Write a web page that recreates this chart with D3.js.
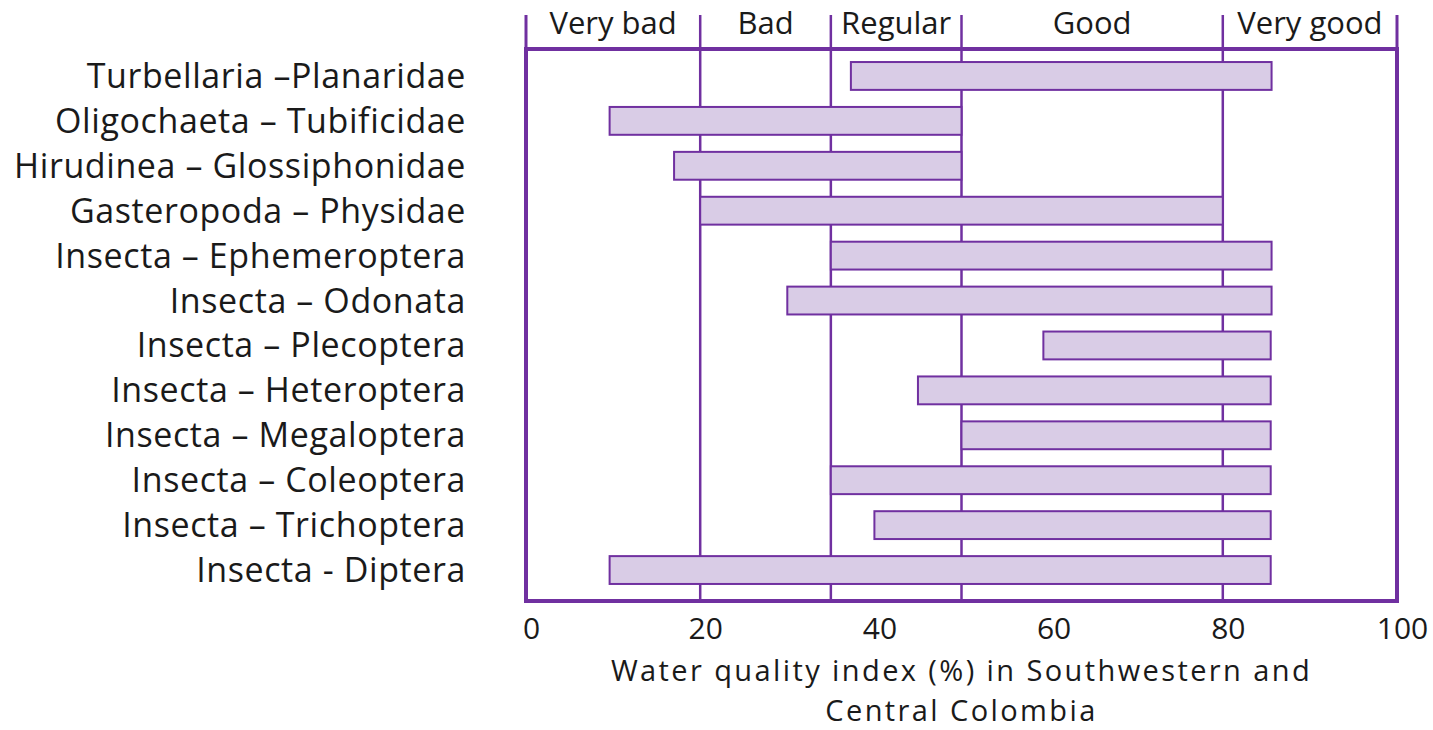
<!DOCTYPE html>
<html>
<head>
<meta charset="utf-8">
<script src="https://d3js.org/d3.v7.min.js"></script>
<style>
  body { margin: 0; background: #fff; }
  text { font-family: "Open Sans", Lato, sans-serif; fill: #1a1a1a; }
</style>
</head>
<body>
<div id="chart-area"></div>
<script>
// taxa, top to bottom
var taxa = ["Turbellaria \u2013Planaridae", "Oligochaeta \u2013 Tubificidae", "Hirudinea \u2013 Glossiphonidae",
            "Gasteropoda \u2013 Physidae", "Insecta \u2013 Ephemeroptera", "Insecta \u2013 Odonata",
            "Insecta \u2013 Plecoptera", "Insecta \u2013 Heteroptera", "Insecta \u2013 Megaloptera",
            "Insecta \u2013 Coleoptera", "Insecta \u2013 Trichoptera", "Insecta - Diptera"];
var lowValues  = [37.3, 9.6, 17, 20, 35, 30, 59.4, 45, 50, 35, 40, 9.6];
var highValues = [85.6, 50, 50, 80, 85.6, 85.6, 85.5, 85.5, 85.5, 85.5, 85.5, 85.5];

// quality classes
var classNames = ["Very bad", "Bad", "Regular", "Good", "Very good"];
var classBreaks = [0, 20, 35, 50, 80, 100];

var xTicks = [0, 20, 40, 60, 80, 100];
var titleLines = ["Water quality index (%) in Southwestern and", "Central Colombia"];

var purple = "#7030a0";
var lilac = "#d9cce6";

var W = 1433, H = 730;
var margin = { left: 526, right: 36, top: 49, bottom: 129 };
var width = W - margin.left - margin.right,
    height = H - margin.top - margin.bottom;

var svg = d3.select("#chart-area").append("svg")
    .attr("width", W).attr("height", H);

var g = svg.append("g")
    .attr("transform", "translate(" + margin.left + "," + margin.top + ")");

var xScale = d3.scaleLinear().domain([0, 100]).range([0, width]);
var yScale = d3.scaleBand().domain(taxa)
    .range([4.5, height - 8.5])
    .paddingInner(0.38).paddingOuter(0.19);

// class boundary lines (extend above the frame)
g.selectAll("line.brk")
  .data(classBreaks.slice(1, -1))
  .enter().append("line")
    .attr("class", "brk")
    .attr("x1", d => xScale(d)).attr("x2", d => xScale(d))
    .attr("y1", -34).attr("y2", height)
    .attr("stroke", purple).attr("stroke-width", 2.5);

// frame sides extending up too
g.selectAll("line.side")
  .data([0, 100])
  .enter().append("line")
    .attr("class", "side")
    .attr("x1", d => xScale(d)).attr("x2", d => xScale(d))
    .attr("y1", -34).attr("y2", 0)
    .attr("stroke", purple).attr("stroke-width", 3);

// class labels
g.selectAll("text.cls")
  .data(classNames)
  .enter().append("text")
    .attr("class", "cls")
    .attr("x", (d, i) => (xScale(classBreaks[i]) + xScale(classBreaks[i + 1])) / 2)
    .attr("y", 34 - margin.top)
    .attr("text-anchor", "middle")
    .attr("font-size", "31px")
    .text(d => d);

// bars
g.selectAll("rect.bar")
  .data(taxa)
  .enter().append("rect")
    .attr("class", "bar")
    .attr("x", (d, i) => xScale(lowValues[i]))
    .attr("y", d => yScale(d))
    .attr("width", (d, i) => xScale(highValues[i]) - xScale(lowValues[i]))
    .attr("height", yScale.bandwidth())
    .attr("fill", lilac)
    .attr("stroke", purple)
    .attr("stroke-width", 2);

// frame
g.append("rect")
  .attr("x", 0).attr("y", 0)
  .attr("width", width).attr("height", height)
  .attr("fill", "none")
  .attr("stroke", purple)
  .attr("stroke-width", 4);

// y labels
g.selectAll("text.taxon")
  .data(taxa)
  .enter().append("text")
    .attr("class", "taxon")
    .attr("x", -60)
    .attr("y", d => yScale(d) + yScale.bandwidth() / 2 + 12)
    .attr("text-anchor", "end")
    .attr("font-size", "34px")
    .attr("letter-spacing", "0.6px")
    .text(d => d);

// x axis
var bottomAxis = d3.axisBottom(xScale).tickValues(xTicks).tickSize(0).tickPadding(0);
var xAxis = g.append("g")
    .attr("transform", "translate(0," + height + ")")
    .call(bottomAxis);
xAxis.select(".domain").remove();
xAxis.selectAll("text")
    .attr("font-size", "30px")
    .attr("fill", "#1a1a1a")
    .attr("dy", null)
    .attr("y", 639 - margin.top - height)
    .attr("dx", 5)
    .style("font-family", "\"Open Sans\", Lato, sans-serif");

// x title
g.selectAll("text.title")
  .data(titleLines)
  .enter().append("text")
    .attr("class", "title")
    .attr("x", width / 2)
    .attr("y", (d, i) => 681 - margin.top + i * 40)
    .attr("text-anchor", "middle")
    .attr("font-size", "29px")
    .attr("letter-spacing", "2.4px")
    .text(d => d);
</script>
</body>
</html>
